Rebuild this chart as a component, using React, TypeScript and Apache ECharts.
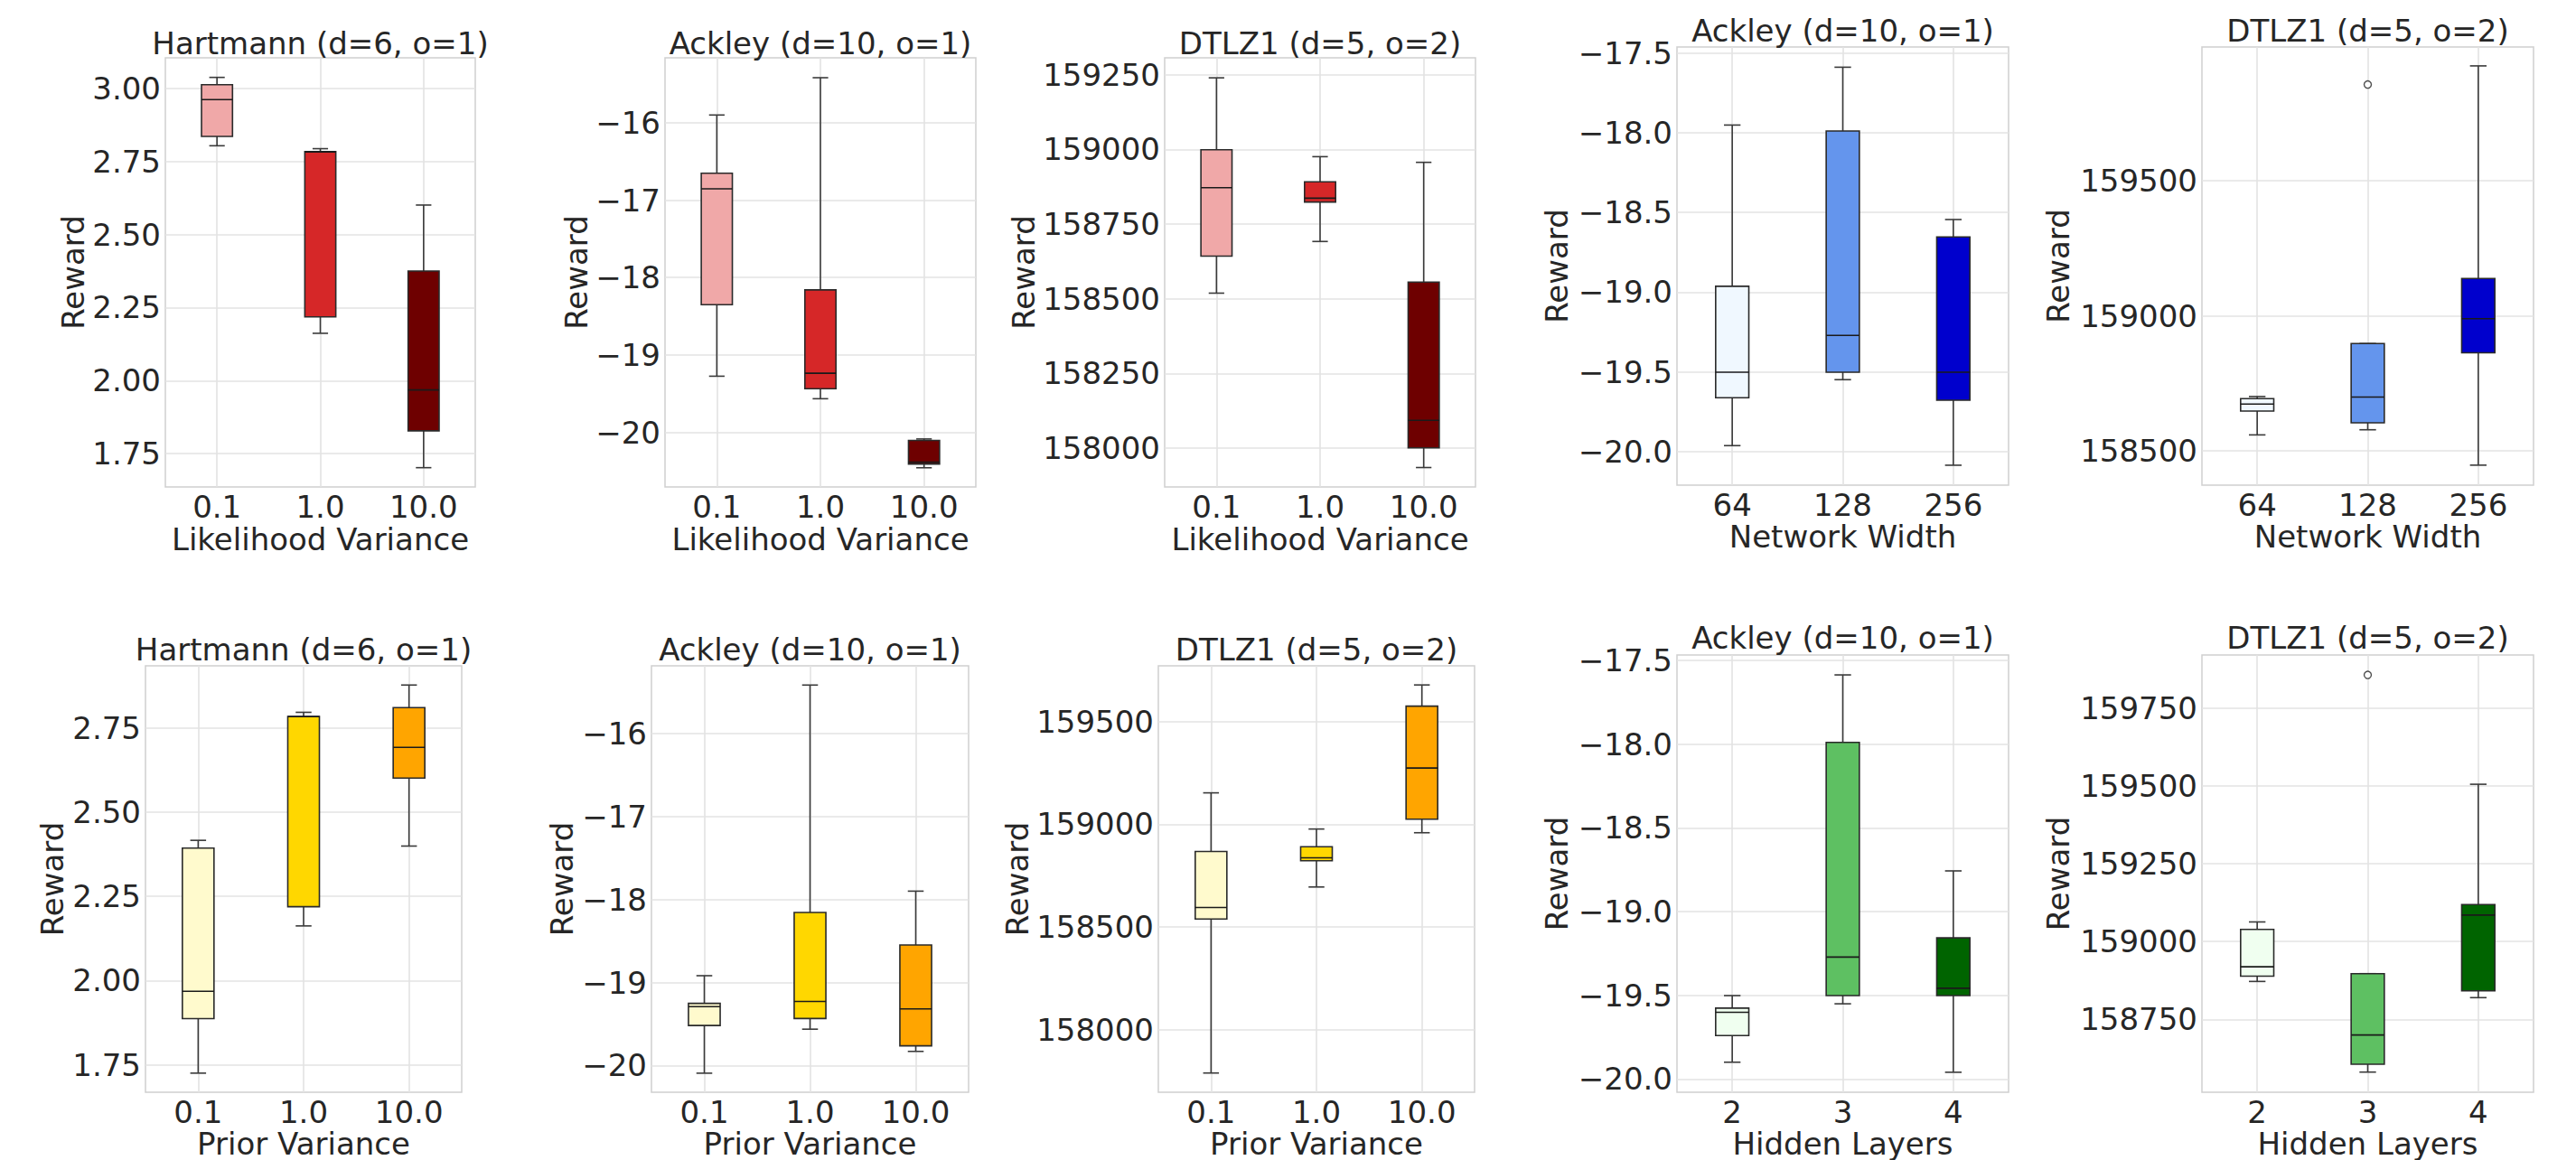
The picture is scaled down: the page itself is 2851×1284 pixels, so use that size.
import React, { useEffect, useRef } from 'react';
import * as echarts from 'echarts';

const W = 2851;
const H = 1284;
const FONT = 'DejaVu Sans';
const TEXT = '#262626';
const FS = 34;

// categories
const likelihoodCats = ['0.1', '1.0', '10.0'];
const widthCats = ['64', '128', '256'];
const priorCats = ['0.1', '1.0', '10.0'];
const layerCats = ['2', '3', '4'];

// colours per category
const likelihoodColors = ['#F0A8A8', '#D62728', '#6E0000'];
const widthColors = ['#F0F8FF', '#6495ED', '#0000CD'];
const priorColors = ['#FFFACD', '#FFD700', '#FFA500'];
const layerColors = ['#F0FFF0', '#5EC062', '#006400'];

// box values: [lower whisker, Q1, median, Q3, upper whisker]
const hartmannLikelihood = [
  [2.804, 2.836, 2.962, 3.013, 3.038],
  [2.162, 2.218, 2.783, 2.784, 2.794],
  [1.702, 1.828, 1.968, 2.375, 2.601],
];
const ackleyLikelihood = [
  [-19.275, -18.35, -16.853, -16.653, -15.9],
  [-19.566, -19.437, -19.237, -18.16, -15.418],
  [-20.458, -20.41, -20.386, -20.105, -20.086],
];
const dtlzLikelihood = [
  [158519, 158643, 158872, 158999, 159240],
  [158692, 158824, 158837, 158892, 158976],
  [157935, 158001, 158093, 158556, 158957],
];
const ackleyWidth = [
  [-19.963, -19.662, -19.502, -18.963, -17.951],
  [-19.549, -19.502, -19.271, -17.988, -17.588],
  [-20.086, -19.678, -19.502, -18.653, -18.544],
];
const dtlzWidth = [
  [158559, 158647, 158673, 158693, 158701],
  [158578, 158604, 158699, 158897, 158897],
  [158447, 158863, 158989, 159138, 159925],
];
const dtlzWidthOutliers = [[1, 159856]];
const hartmannPrior = [
  [1.725, 1.887, 1.968, 2.393, 2.416],
  [2.162, 2.219, 2.783, 2.784, 2.796],
  [2.399, 2.601, 2.692, 2.81, 2.877],
];
const ackleyPrior = [
  [-20.094, -19.519, -19.292, -19.252, -18.918],
  [-19.563, -19.434, -19.229, -18.156, -15.412],
  [-19.831, -19.764, -19.318, -18.548, -17.898],
];
const dtlzPrior = [
  [157790, 158539, 158595, 158868, 159153],
  [158695, 158823, 158837, 158891, 158977],
  [158959, 159025, 159274, 159575, 159678],
];
const ackleyLayers = [
  [-19.9, -19.741, -19.602, -19.577, -19.502],
  [-19.551, -19.502, -19.272, -17.989, -17.586],
  [-19.96, -19.502, -19.458, -19.157, -18.757],
];
const dtlzLayers = [
  [158872, 158889, 158919, 159039, 159063],
  [158581, 158606, 158700, 158897, 158897],
  [158820, 158842, 159085, 159119, 159505],
];
const dtlzLayersOutliers = [[1, 159856]];

// tick labels
const hartmannLikTicks = [1.75, 2.0, 2.25, 2.5, 2.75, 3.0];
const ackleyTicks = [-20, -19, -18, -17, -16];
const dtlzLikTicks = [158000, 158250, 158500, 158750, 159000, 159250];
const ackleyHalfTicks = [-20.0, -19.5, -19.0, -18.5, -18.0, -17.5];
const dtlzWidthTicks = [158500, 159000, 159500];
const hartmannPriorTicks = [1.75, 2.0, 2.25, 2.5, 2.75];
const dtlzPriorTicks = [158000, 158500, 159000, 159500];
const dtlzLayerTicks = [158750, 159000, 159250, 159500, 159750];

const HART = 'Hartmann (d=6, o=1)';
const ACK = 'Ackley (d=10, o=1)';
const DTLZ = 'DTLZ1 (d=5, o=2)';

type Panel = {
  title: string;
  xName: string;
  cats: string[];
  colors: string[];
  data: number[][];
  outliers?: number[][];
  yMin: number;
  yMax: number;
  ticks: number[];
  dec: number;
  grid: number[]; // left, top, width, height
  titleTop: number;
  yGap: number;
  xGap: number;
};

const panels: Panel[] = [
  { title: HART, xName: 'Likelihood Variance', cats: likelihoodCats, colors: likelihoodColors, data: hartmannLikelihood, yMin: 1.636, yMax: 3.105, ticks: hartmannLikTicks, dec: 2, grid: [183, 64, 343, 475], titleTop: 31, yGap: 85, xGap: 41 },
  { title: ACK, xName: 'Likelihood Variance', cats: likelihoodCats, colors: likelihoodColors, data: ackleyLikelihood, yMin: -20.706, yMax: -15.161, ticks: ackleyTicks, dec: 0, grid: [736, 64, 344, 475], titleTop: 31, yGap: 81, xGap: 41 },
  { title: DTLZ, xName: 'Likelihood Variance', cats: likelihoodCats, colors: likelihoodColors, data: dtlzLikelihood, yMin: 157870, yMax: 159307, ticks: dtlzLikTicks, dec: 0, grid: [1289, 64, 344, 475], titleTop: 31, yGap: 139, xGap: 41 },
  { title: ACK, xName: 'Network Width', cats: widthCats, colors: widthColors, data: ackleyWidth, yMin: -20.211, yMax: -17.461, ticks: ackleyHalfTicks, dec: 1, grid: [1856, 52, 367, 485], titleTop: 17, yGap: 116, xGap: 40 },
  { title: DTLZ, xName: 'Network Width', cats: widthCats, colors: widthColors, data: dtlzWidth, outliers: dtlzWidthOutliers, yMin: 158373, yMax: 159995, ticks: dtlzWidthTicks, dec: 0, grid: [2437, 52, 367, 485], titleTop: 17, yGap: 142, xGap: 40 },
  { title: HART, xName: 'Prior Variance', cats: priorCats, colors: priorColors, data: hartmannPrior, yMin: 1.668, yMax: 2.934, ticks: hartmannPriorTicks, dec: 2, grid: [161, 737, 350, 474], titleTop: 702, yGap: 86, xGap: 26 },
  { title: ACK, xName: 'Prior Variance', cats: priorCats, colors: priorColors, data: ackleyPrior, yMin: -20.325, yMax: -15.18, ticks: ackleyTicks, dec: 0, grid: [721, 737, 351, 474], titleTop: 702, yGap: 82, xGap: 26 },
  { title: DTLZ, xName: 'Prior Variance', cats: priorCats, colors: priorColors, data: dtlzPrior, yMin: 157696, yMax: 159771, ticks: dtlzPriorTicks, dec: 0, grid: [1282, 737, 350, 474], titleTop: 702, yGap: 139, xGap: 26 },
  { title: ACK, xName: 'Hidden Layers', cats: layerCats, colors: layerColors, data: ackleyLayers, yMin: -20.08, yMax: -17.467, ticks: ackleyHalfTicks, dec: 1, grid: [1856, 725, 367, 485], titleTop: 689, yGap: 116, xGap: 26 },
  { title: DTLZ, xName: 'Hidden Layers', cats: layerCats, colors: layerColors, data: dtlzLayers, outliers: dtlzLayersOutliers, yMin: 158516, yMax: 159920, ticks: dtlzLayerTicks, dec: 0, grid: [2437, 725, 367, 485], titleTop: 689, yGap: 142, xGap: 26 },
];

function fmt(v: number, d: number): string {
  const s = Math.abs(v).toFixed(d);
  return v < 0 ? '\u2212' + s : s;
}

function makeRender(colors: string[]) {
  return (params: any, api: any) => {
    const j = api.value(0);
    const band = api.size([1, 0])[0];
    const w = band * 0.3;
    const cx = api.coord([j, api.value(3)])[0];
    const y = (k: number) => api.coord([j, api.value(k)])[1];
    const yLo = y(1), yQ1 = y(2), yMed = y(3), yQ3 = y(4), yHi = y(5);
    const ws = { stroke: '#3a3a3a', lineWidth: 1.6 };
    return {
      type: 'group',
      children: [
        { type: 'line', shape: { x1: cx, y1: yQ1, x2: cx, y2: yLo }, style: ws },
        { type: 'line', shape: { x1: cx, y1: yQ3, x2: cx, y2: yHi }, style: ws },
        { type: 'line', shape: { x1: cx - w / 4, y1: yLo, x2: cx + w / 4, y2: yLo }, style: ws },
        { type: 'line', shape: { x1: cx - w / 4, y1: yHi, x2: cx + w / 4, y2: yHi }, style: ws },
        { type: 'rect', shape: { x: cx - w / 2, y: yQ3, width: w, height: yQ1 - yQ3 }, style: { fill: colors[j], stroke: '#2a2a2a', lineWidth: 1.6 } },
        { type: 'line', shape: { x1: cx - w / 2, y1: yMed, x2: cx + w / 2, y2: yMed }, style: { stroke: '#1a1a1a', lineWidth: 1.6 } },
      ],
    };
  };
}

const textStyle = { fontSize: FS, color: TEXT, fontFamily: FONT, fontWeight: 'normal' as const };
const gridLine = { color: '#e3e3e3', width: 1.6 };

function buildOption() {
  const series: any[] = [];
  panels.forEach((p, i) => {
    series.push({
      type: 'custom',
      xAxisIndex: i,
      yAxisIndex: i,
      silent: true,
      z: 3,
      data: p.data.map((d, j) => [j, ...d]),
      encode: { x: 0, y: [1, 2, 3, 4, 5] },
      renderItem: makeRender(p.colors),
    });
    if (p.outliers) {
      series.push({
        type: 'scatter',
        xAxisIndex: i,
        yAxisIndex: i,
        silent: true,
        z: 4,
        symbol: 'circle',
        symbolSize: 8,
        data: p.outliers,
        itemStyle: { color: '#ffffff', borderColor: '#222222', borderWidth: 1.4 },
      });
    }
  });
  return {
    animation: false,
    backgroundColor: '#ffffff',
    textStyle: { fontFamily: FONT },
    title: panels.map((p) => ({
      text: p.title,
      left: p.grid[0] + p.grid[2] / 2,
      top: p.titleTop,
      textAlign: 'center',
      padding: 0,
      textStyle,
    })),
    grid: panels.map((p) => ({
      left: p.grid[0],
      top: p.grid[1],
      width: p.grid[2],
      height: p.grid[3],
      show: true,
      borderColor: '#d0d0d0',
      borderWidth: 1.5,
      backgroundColor: 'transparent',
    })),
    xAxis: panels.map((p, i) => ({
      type: 'category',
      gridIndex: i,
      data: p.cats,
      boundaryGap: true,
      name: p.xName,
      nameLocation: 'middle',
      nameGap: p.xGap,
      nameTextStyle: textStyle,
      axisLine: { show: false },
      axisTick: { show: false, alignWithLabel: true },
      axisLabel: { ...textStyle, margin: 5, interval: 0 },
      splitLine: { show: true, alignWithLabel: true, lineStyle: gridLine },
    })),
    yAxis: panels.map((p, i) => ({
      type: 'value',
      gridIndex: i,
      min: p.yMin,
      max: p.yMax,
      name: 'Reward',
      nameLocation: 'middle',
      nameGap: p.yGap,
      nameRotate: 90,
      nameTextStyle: textStyle,
      axisLine: { show: false },
      axisTick: { show: false, customValues: p.ticks },
      axisLabel: { ...textStyle, margin: 5, customValues: p.ticks, formatter: (v: number) => fmt(v, p.dec) },
      splitLine: { show: true, lineStyle: gridLine },
    })),
    series,
  };
}

export default function App() {
  const ref = useRef<HTMLDivElement>(null);
  useEffect(() => {
    document.body.style.margin = '0';
    if (!ref.current) return;
    const chart = echarts.init(ref.current, null, { renderer: 'svg', width: W, height: H });
    chart.setOption(buildOption() as any);
    return () => chart.dispose();
  }, []);
  return <div ref={ref} style={{ width: W, height: H, background: '#ffffff' }} />;
}
